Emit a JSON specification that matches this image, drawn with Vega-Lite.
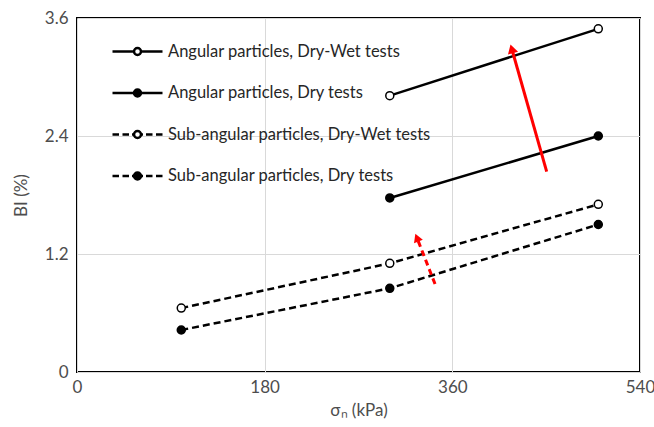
{
  "$schema": "https://vega.github.io/schema/vega-lite/v6.json",
  "width": 563,
  "height": 354,
  "autosize": {"type": "none"},
  "padding": {"left": 77, "top": 18, "right": 14, "bottom": 55},
  "background": "white",
  "config": {
    "view": {"stroke": "black", "strokeWidth": 2},
    "font": "Lato",
    "axis": {
      "grid": true,
      "gridColor": "#d9d9d9",
      "gridWidth": 1,
      "domain": false,
      "ticks": false,
      "labelFlush": false,
      "labelFont": "Lato",
      "labelFontSize": 17,
      "labelColor": "#4d4d4d",
      "titleFont": "Lato",
      "titleFontSize": 17,
      "titleFontWeight": "normal",
      "titleColor": "#4d4d4d"
    }
  },
  "datasets": {
    "tests": [
      {"series": "Angular particles, Dry-Wet tests", "stress": 300, "bi": 2.81},
      {"series": "Angular particles, Dry-Wet tests", "stress": 500, "bi": 3.49},
      {"series": "Angular particles, Dry tests", "stress": 300, "bi": 1.77},
      {"series": "Angular particles, Dry tests", "stress": 500, "bi": 2.40},
      {"series": "Sub-angular particles, Dry-Wet tests", "stress": 100, "bi": 0.65},
      {"series": "Sub-angular particles, Dry-Wet tests", "stress": 300, "bi": 1.105},
      {"series": "Sub-angular particles, Dry-Wet tests", "stress": 500, "bi": 1.705},
      {"series": "Sub-angular particles, Dry tests", "stress": 100, "bi": 0.427},
      {"series": "Sub-angular particles, Dry tests", "stress": 300, "bi": 0.851},
      {"series": "Sub-angular particles, Dry tests", "stress": 500, "bi": 1.50}
    ],
    "arrows": [
      {"arrow": "angular", "stress": 450.5, "bi": 2.037, "stress2": 417, "bi2": 3.287},
      {"arrow": "sub-angular", "stress": 343.4, "bi": 0.895, "stress2": 326, "bi2": 1.366}
    ]
  },
  "layer": [
    {
      "data": {"name": "tests"},
      "transform": [{"filter": "indexof(datum.series, 'Sub-') < 0"}],
      "mark": {"type": "line", "color": "black", "strokeWidth": 2.5},
      "encoding": {
        "x": {
          "field": "stress",
          "type": "quantitative",
          "scale": {"domain": [0, 540], "nice": false},
          "axis": {"values": [0, 180, 360, 540], "title": "σₙ (kPa)", "labelPadding": 7, "titlePadding": 7}
        },
        "y": {
          "field": "bi",
          "type": "quantitative",
          "scale": {"domain": [0, 3.6], "nice": false},
          "axis": {
            "values": [0, 1.2, 2.4, 3.6],
            "labelExpr": "datum.value === 0 ? '0' : format(datum.value, '.1f')",
            "title": "BI (%)",
            "labelPadding": 9,
            "titlePadding": 14
          }
        },
        "detail": {"field": "series"}
      }
    },
    {
      "data": {"name": "tests"},
      "transform": [{"filter": "indexof(datum.series, 'Sub-') >= 0"}],
      "mark": {"type": "line", "color": "black", "strokeWidth": 2.5, "strokeDash": [7, 4]},
      "encoding": {
        "x": {"field": "stress", "type": "quantitative"},
        "y": {"field": "bi", "type": "quantitative"},
        "detail": {"field": "series"}
      }
    },
    {
      "data": {"name": "tests"},
      "mark": {"type": "point", "shape": "circle", "filled": true, "size": 64, "stroke": "black", "strokeWidth": 1.5, "opacity": 1},
      "encoding": {
        "x": {"field": "stress", "type": "quantitative"},
        "y": {"field": "bi", "type": "quantitative"},
        "fill": {
          "field": "series",
          "type": "nominal",
          "scale": {
            "domain": ["Angular particles, Dry-Wet tests", "Angular particles, Dry tests", "Sub-angular particles, Dry-Wet tests", "Sub-angular particles, Dry tests"],
            "range": ["white", "black", "white", "black"]
          },
          "legend": {
            "title": null,
            "orient": "none",
            "legendX": 34,
            "legendY": 7,
            "symbolType": "M-1,0H-0.14M0.14,0H1M-0.14,0A0.14,0.14,0,1,1,0.14,0A0.14,0.14,0,1,1,-0.14,0",
            "symbolSize": 2500,
            "symbolStrokeColor": "black",
            "symbolStrokeWidth": 2.5,
            "symbolOpacity": 1,
            "labelFont": "Lato",
            "labelFontSize": 16.5,
            "labelColor": "#262626",
            "labelOffset": 4,
            "labelLimit": 400,
            "rowPadding": 6.5,
            "encode": {
              "symbols": {
                "update": {
                  "shape": {
                    "signal": "indexof(datum.value, 'Sub-') >= 0 ? 'M-1,0H-0.74M-0.6,0H-0.34M-0.22,0H-0.14M0.14,0H0.22M0.34,0H0.6M0.74,0H1M-0.14,0A0.14,0.14,0,1,1,0.14,0A0.14,0.14,0,1,1,-0.14,0' : 'M-1,0H-0.14M0.14,0H1M-0.14,0A0.14,0.14,0,1,1,0.14,0A0.14,0.14,0,1,1,-0.14,0'"
                  }
                }
              }
            }
          }
        }
      }
    },
    {
      "data": {"name": "arrows"},
      "transform": [{"filter": "datum.arrow === 'angular'"}],
      "mark": {"type": "rule", "color": "#ff0000", "strokeWidth": 3},
      "encoding": {
        "x": {"field": "stress", "type": "quantitative"},
        "y": {"field": "bi", "type": "quantitative"},
        "x2": {"field": "stress2"},
        "y2": {"field": "bi2"}
      }
    },
    {
      "data": {"name": "arrows"},
      "transform": [{"filter": "datum.arrow === 'sub-angular'"}],
      "mark": {"type": "rule", "color": "#ff0000", "strokeWidth": 3, "strokeDash": [6, 4]},
      "encoding": {
        "x": {"field": "stress", "type": "quantitative"},
        "y": {"field": "bi", "type": "quantitative"},
        "x2": {"field": "stress2"},
        "y2": {"field": "bi2"}
      }
    },
    {
      "data": {"name": "arrows"},
      "transform": [{"filter": "datum.arrow === 'angular'"}],
      "mark": {"type": "point", "shape": "triangle-up", "filled": true, "color": "#ff0000", "size": 110, "angle": 344, "opacity": 1},
      "encoding": {
        "x": {"field": "stress2", "type": "quantitative"},
        "y": {"field": "bi2", "type": "quantitative"}
      }
    },
    {
      "data": {"name": "arrows"},
      "transform": [{"filter": "datum.arrow === 'sub-angular'"}],
      "mark": {"type": "point", "shape": "triangle-up", "filled": true, "color": "#ff0000", "size": 90, "angle": 338, "opacity": 1},
      "encoding": {
        "x": {"field": "stress2", "type": "quantitative"},
        "y": {"field": "bi2", "type": "quantitative"}
      }
    }
  ]
}
